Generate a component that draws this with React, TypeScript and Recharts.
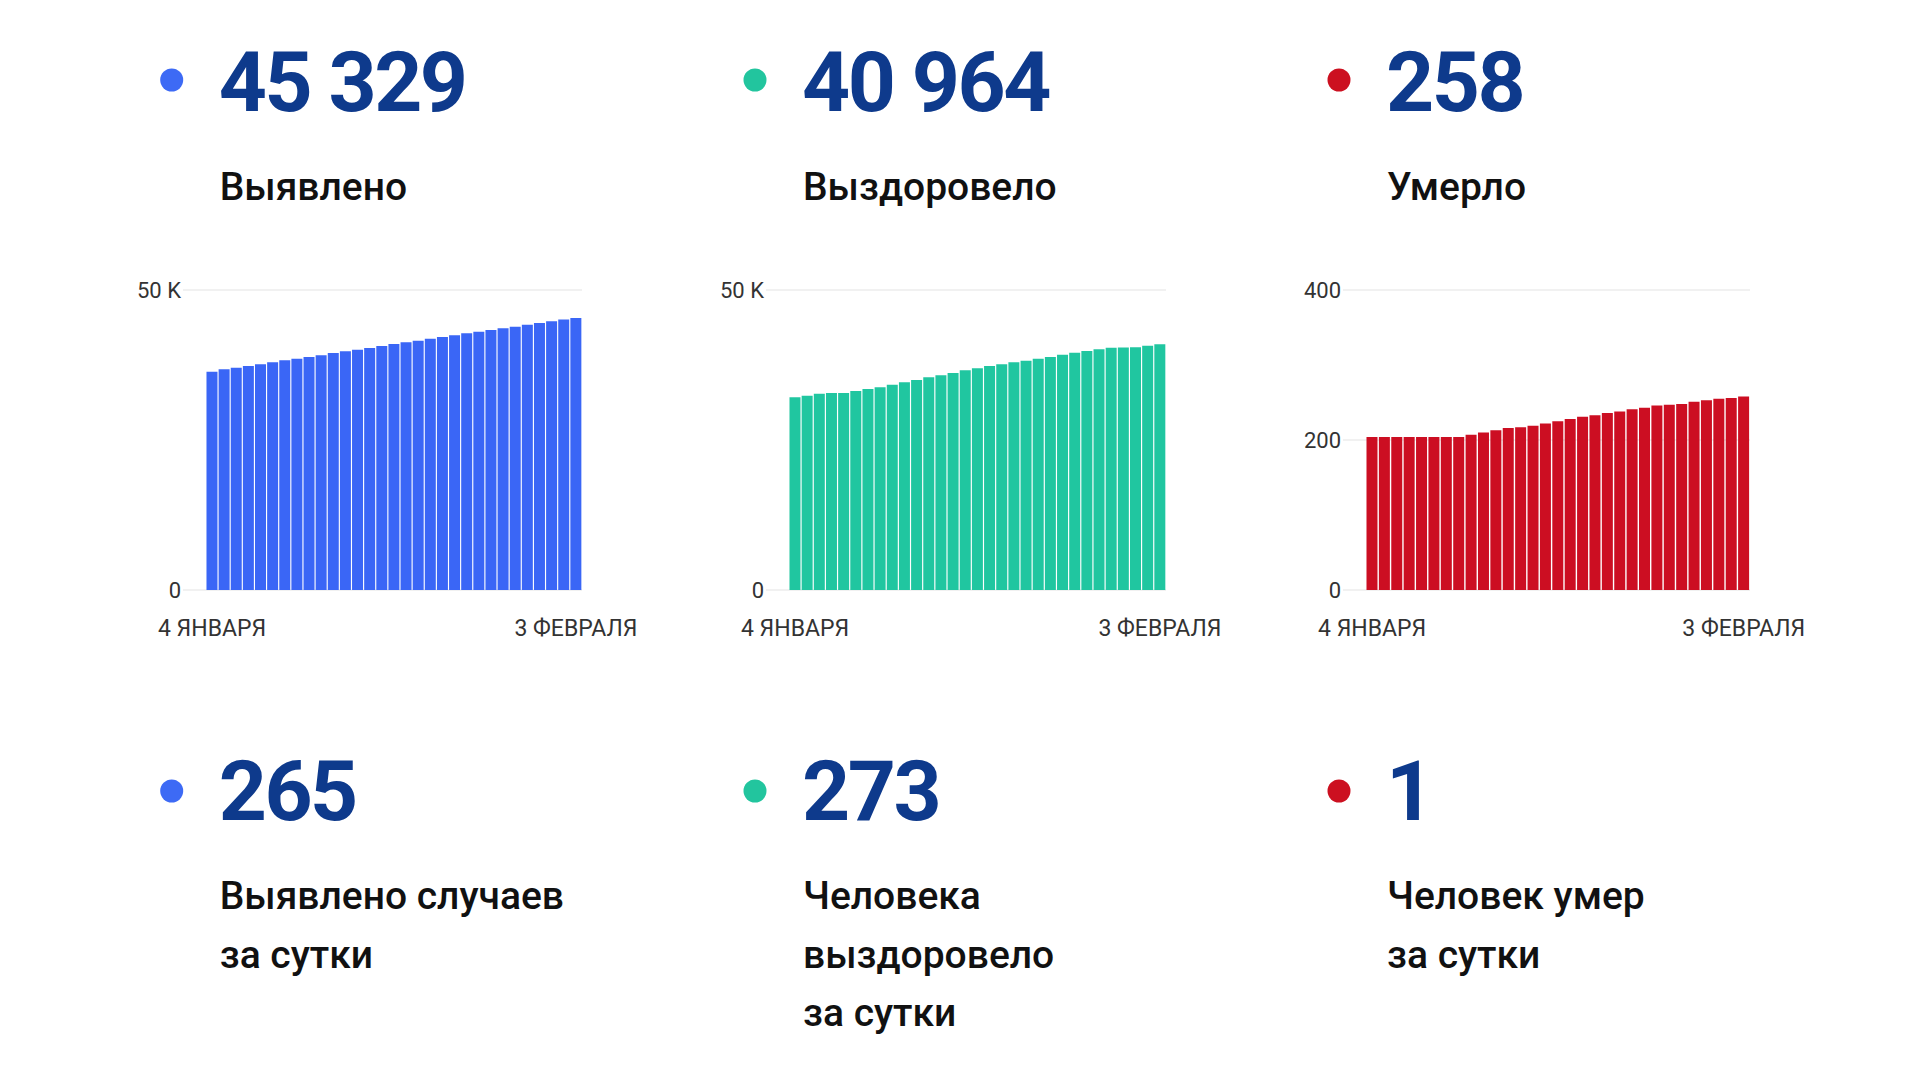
import { Bar, BarChart, CartesianGrid, XAxis, YAxis } from "recharts"

// дни: 4 января — 3 февраля
const DATES = [
  "4 ЯНВАРЯ", "5 ЯНВАРЯ", "6 ЯНВАРЯ", "7 ЯНВАРЯ", "8 ЯНВАРЯ", "9 ЯНВАРЯ", "10 ЯНВАРЯ",
  "11 ЯНВАРЯ", "12 ЯНВАРЯ", "13 ЯНВАРЯ", "14 ЯНВАРЯ", "15 ЯНВАРЯ", "16 ЯНВАРЯ", "17 ЯНВАРЯ",
  "18 ЯНВАРЯ", "19 ЯНВАРЯ", "20 ЯНВАРЯ", "21 ЯНВАРЯ", "22 ЯНВАРЯ", "23 ЯНВАРЯ", "24 ЯНВАРЯ",
  "25 ЯНВАРЯ", "26 ЯНВАРЯ", "27 ЯНВАРЯ", "28 ЯНВАРЯ", "29 ЯНВАРЯ", "30 ЯНВАРЯ", "31 ЯНВАРЯ",
  "1 ФЕВРАЛЯ", "2 ФЕВРАЛЯ", "3 ФЕВРАЛЯ",
]

const CONFIRMED = [
  36390, 36780, 37060, 37330, 37610, 37940, 38280, 38560, 38830, 39110, 39500, 39780, 40060,
  40330, 40670, 41000, 41280, 41560, 41890, 42170, 42440, 42780, 43060, 43330, 43610, 43890,
  44220, 44500, 44780, 45064, 45329,
]

const RECOVERED = [
  32117, 32390, 32723, 32833, 32840, 33167, 33500, 33778, 34222, 34611, 35000, 35444, 35778,
  36167, 36611, 36944, 37333, 37611, 37944, 38222, 38556, 38833, 39222, 39556, 39833, 40111,
  40389, 40400, 40444, 40691, 40964,
]

const DEATHS = [
  204, 204, 204, 204, 204, 204, 204, 204, 207, 210, 213, 216, 217, 219, 222, 225, 228, 231, 233,
  236, 238, 241, 243, 246, 247, 248, 251, 253, 255, 256, 258,
]

const TOTALS = ["45 329", "40 964", "258"]
const TOTAL_LABELS = ["Выявлено", "Выздоровело", "Умерло"]
const DAILY = ["265", "273", "1"]
const DAILY_LABELS = [
  ["Выявлено случаев", "за сутки"],
  ["Человека", "выздоровело", "за сутки"],
  ["Человек умер", "за сутки"],
]

const COLORS = ["#3a66f6", "#20c6a0", "#cc0e22"]
const DOT_COLORS = ["#3d6af5", "#22c59e", "#cc1020"]
const NUMBER_COLOR = "#0e3a8c"
const FONT = "Roboto, 'Noto Sans', sans-serif"

const COLUMN_X = [171.7, 755, 1339]

const Y_AXIS_WIDTH = 60
const PLOT_TOP = 290
const PLOT_HEIGHT = 300

interface MiniBarChartProps {
  values: number[]
  color: string
  max: number
  ticks: number[]
  plotLeft: number
  plotRight: number
}

function formatTick(value: number): string {
  if (value >= 1000) return `${value / 1000} K`
  return String(value)
}

function MiniBarChart({ values, color, max, ticks, plotLeft, plotRight }: MiniBarChartProps) {
  const data = DATES.map((date, i) => ({ date, value: values[i] }))
  const marginTop = 20
  const marginRight = 80
  const xAxisHeight = 60
  const width = Y_AXIS_WIDTH + (plotRight - plotLeft) + marginRight
  const height = marginTop + PLOT_HEIGHT + xAxisHeight

  return (
    <div
      style={{
        position: "absolute",
        left: plotLeft - Y_AXIS_WIDTH,
        top: PLOT_TOP - marginTop,
        width,
        height,
      }}
    >
      <BarChart
        width={width}
        height={height}
        data={data}
        margin={{ top: marginTop, right: marginRight, bottom: 0, left: 0 }}
        barCategoryGap="4%"
        style={{ overflow: "visible" }}
      >
        <CartesianGrid vertical={false} stroke="#ececec" strokeWidth={1.5} />
        <XAxis
          dataKey="date"
          ticks={[DATES[0], DATES[DATES.length - 1]]}
          interval={0}
          height={xAxisHeight}
          padding={{ left: 23, right: 0 }}
          axisLine={false}
          tickLine={false}
          tickSize={0}
          tickMargin={30}
          tick={{ fontSize: 23, fill: "#333333", fontFamily: FONT }}
        />
        <YAxis
          width={Y_AXIS_WIDTH}
          domain={[0, max]}
          ticks={ticks}
          axisLine={false}
          tickLine={false}
          tickSize={0}
          tickMargin={2}
          tick={{ fontSize: 22, fill: "#333333", fontFamily: FONT }}
          tickFormatter={(v) => formatTick(Number(v))}
        />
        <Bar dataKey="value" fill={color} isAnimationActive={false} />
      </BarChart>
    </div>
  )
}

export default function App() {
  return (
    <div
      style={{
        position: "absolute",
        left: 0,
        top: 0,
        width: 1920,
        height: 1080,
        background: "#ffffff",
        overflow: "hidden",
        fontFamily: FONT,
      }}
    >
      <svg width={1920} height={1080} style={{ position: "absolute", left: 0, top: 0 }}>
        {COLUMN_X.map((x, i) => (
          <g key={i}>
            <circle cx={x} cy={80} r={11.5} fill={DOT_COLORS[i]} />
            <text
              x={x + 47}
              y={111}
              fontFamily={FONT}
              fontWeight={700}
              fontSize={84}
              letterSpacing={-2.5}
              fill={NUMBER_COLOR}
            >
              {TOTALS[i]}
            </text>
            <text x={x + 48} y={200} fontFamily={FONT} fontWeight={500} fontSize={39} fill="#111111">
              {TOTAL_LABELS[i]}
            </text>

            <circle cx={x} cy={791} r={11.5} fill={DOT_COLORS[i]} />
            <text
              x={x + 47}
              y={820}
              fontFamily={FONT}
              fontWeight={700}
              fontSize={84}
              letterSpacing={-2.5}
              fill={NUMBER_COLOR}
            >
              {DAILY[i]}
            </text>
            {DAILY_LABELS[i].map((line, j) => (
              <text
                key={j}
                x={x + 48}
                y={909 + j * 58.5}
                fontFamily={FONT}
                fontWeight={500}
                fontSize={39}
                fill="#111111"
              >
                {line}
              </text>
            ))}
          </g>
        ))}
      </svg>

      <MiniBarChart
        values={CONFIRMED}
        color={COLORS[0]}
        max={50000}
        ticks={[0, 50000]}
        plotLeft={183}
        plotRight={582}
      />
      <MiniBarChart
        values={RECOVERED}
        color={COLORS[1]}
        max={50000}
        ticks={[0, 50000]}
        plotLeft={766}
        plotRight={1166}
      />
      <MiniBarChart
        values={DEATHS}
        color={COLORS[2]}
        max={400}
        ticks={[0, 200, 400]}
        plotLeft={1343}
        plotRight={1750}
      />
    </div>
  )
}
